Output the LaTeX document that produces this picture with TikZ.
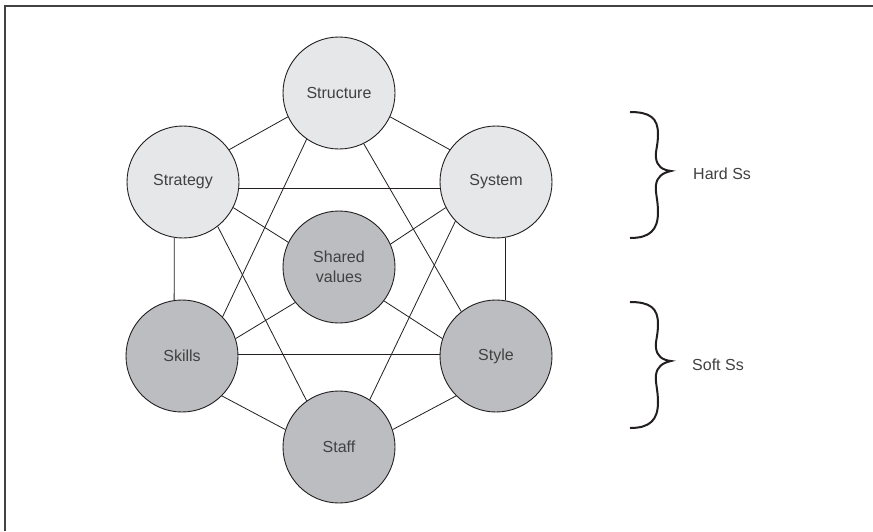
\documentclass[tikz,border=0pt]{standalone}
\usepackage{fontspec}
\setmainfont{Liberation Sans}
\begin{document}
\definecolor{lightS}{HTML}{E6E7E8}
\definecolor{darkS}{HTML}{BCBDC0}
\definecolor{txt}{HTML}{414042}
\definecolor{ink}{HTML}{231F20}
\begin{tikzpicture}[x=1pt,y=-1pt,
  sbase/.style={circle,draw=ink,line width=0.9pt,minimum size=112pt,inner sep=0pt,
    text=txt,font=\fontsize{16}{20}\selectfont,align=center},
  hard/.style={sbase,fill=lightS},
  soft/.style={sbase,fill=darkS},
  link/.style={draw=ink,line width=0.8pt},
  curly/.style={draw=ink,line width=2pt},
  lbl/.style={text=txt,font=\fontsize{16}{20}\selectfont,anchor=west,inner sep=0pt}]
\useasboundingbox (0,0) rectangle (873,531);
\fill[white] (0,0) rectangle (873,531);
\draw[line width=1.4pt,draw=ink!85] (873,6) -- (5,6) -- (5,531);

% links (drawn first, behind circles)
\coordinate (cStructure) at (339,93);
\coordinate (cStrategy) at (183,182);
\coordinate (cSystem) at (496,182);
\coordinate (cShared) at (339,267);
\coordinate (cSkills) at (182,356);
\coordinate (cStyle) at (496,356);
\coordinate (cStaff) at (339,447);

\node[hard] (Structure) at (cStructure) {Structure};
\node[hard] (Strategy) at (cStrategy) {Strategy};
\node[hard] (System) at (cSystem) {System};
\node[soft] (Shared) at (cShared) {Shared\\values};
\node[soft] (Skills) at (cSkills) {Skills};
\node[soft] (Style) at (cStyle) {Style};
\node[soft] (Staff) at (cStaff) {Staff};

% hexagon
\draw[link] (Strategy.35) -- (Structure.205);
\draw[link] (Structure.335) -- (System.145);
\draw[link] (Strategy.-99) -- (Skills.98);
\draw[link] (System.-80) -- (Style.80);
\draw[link] (Skills.-45) -- (Staff.162);
\draw[link] (Staff.18) -- (Style.225);
% triangles
\draw[link] (Strategy.-7) -- (System.187);
\draw[link] (Skills.2) -- (Style.178);
\draw[link] (Structure.235) -- (Skills.44);
\draw[link] (Structure.296) -- (Style.128);
\draw[link] (Strategy.308) -- (Staff.125);
\draw[link] (System.224) -- (Staff.57);
% shared values
\draw[link] (Strategy.-27) -- (Shared.154);
\draw[link] (System.207) -- (Shared.24);
\draw[link] (Skills.18) -- (Shared.219);
\draw[link] (Style.162) -- (Shared.-37);

% braces
\coordinate (hTop) at (630,112);
\coordinate (hTip) at (671,171);
\coordinate (hBot) at (630,238);
\draw[curly] (hTop) .. controls (650,112) and (658,118) .. (658,134)
  .. controls (658,146) and (655,152) .. (656,158)
  .. controls (657,166) and (662,170) .. (hTip)
  .. controls (662,173) and (657,177) .. (656,185)
  .. controls (655,192) and (658,200) .. (658,212)
  .. controls (658,230) and (650,238) .. (hBot);
\coordinate (sTop) at (630,302);
\coordinate (sTip) at (671,361);
\coordinate (sBot) at (630,428);
\draw[curly] (sTop) .. controls (650,302) and (658,308) .. (658,324)
  .. controls (658,336) and (655,342) .. (656,348)
  .. controls (657,356) and (662,360) .. (sTip)
  .. controls (662,363) and (657,367) .. (656,375)
  .. controls (655,382) and (658,390) .. (658,402)
  .. controls (658,420) and (650,428) .. (sBot);
\node[lbl] (hardlbl) at (693,174) {Hard Ss};
\node[lbl] (softlbl) at (692,365) {Soft Ss};
\end{tikzpicture}
\end{document}
